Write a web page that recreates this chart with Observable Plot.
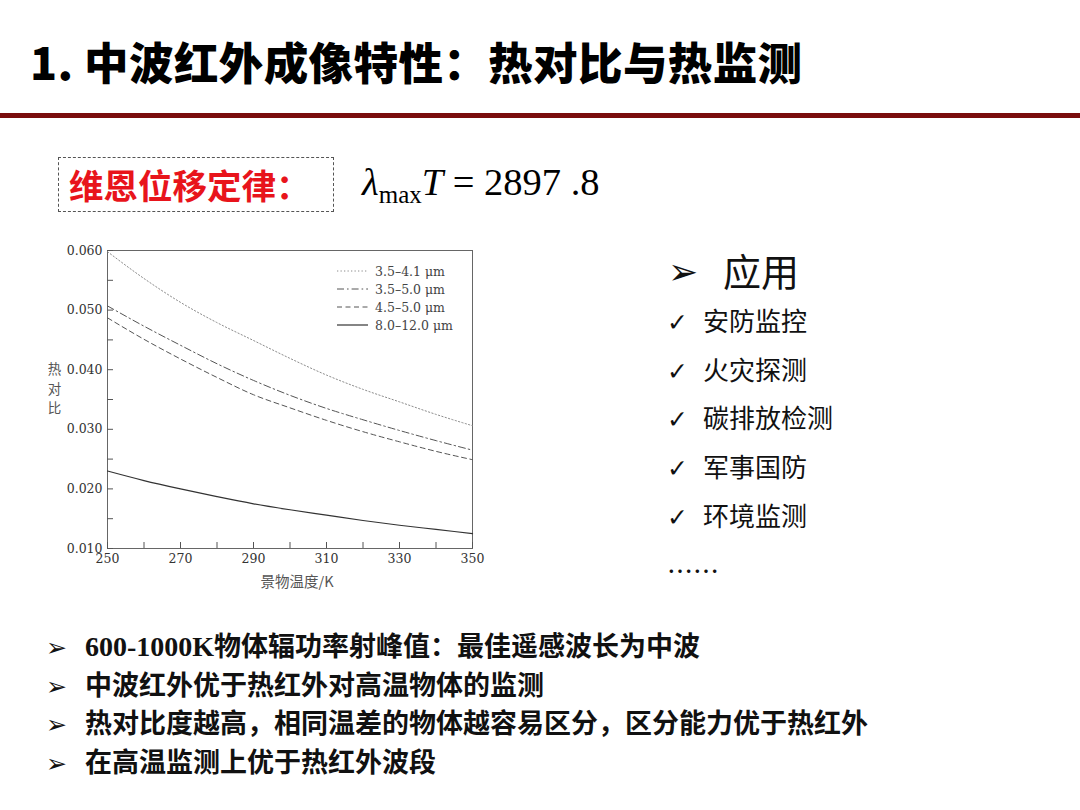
<!DOCTYPE html>
<html>
<head>
<meta charset="utf-8">
<script src="https://cdn.jsdelivr.net/npm/d3@7"></script>
<script src="https://cdn.jsdelivr.net/npm/@observablehq/plot@0.6"></script>
<style>
  html, body { margin: 0; padding: 0; background: #fff; }
  body { width: 1080px; height: 810px; position: relative; overflow: hidden; font-family: "Noto Sans CJK SC", sans-serif; color: #111; }
  .abs { position: absolute; white-space: nowrap; }
  #title { left: 30px; top: 35px; font-size: 44.5px; line-height: 52px; font-weight: 900; color: #000; letter-spacing: 0.4px; }
  #redline { left: 0; top: 113px; width: 1080px; height: 5px; background: #7a0d0d; }
  #box { left: 58px; top: 157px; width: 276px; height: 55px; border: 1px dashed #555; box-sizing: border-box; }
  #law { left: 69px; top: 162px; font-size: 34.5px; line-height: 44px; font-weight: 700; color: #e8141b; }
  #formula { left: 362px; top: 157px; font-family: "Liberation Serif", serif; font-size: 38.5px; line-height: 50px; color: #000; }
  #formula sub { font-size: 25px; vertical-align: -8px; font-style: normal; }
  #chart { left: 40px; top: 235px; }
  #legend { left: 337px; top: 262px; font-family: "DejaVu Serif", serif; font-size: 12.5px; color: #444; }
  #legend .row { height: 18px; display: flex; align-items: center; }
  #legend svg { margin-right: 7px; }
  #apphead { left: 668px; top: 245px; font-size: 38px; line-height: 50px; color: #111; }
  #apphead .arr { font-family: "DejaVu Sans", sans-serif; font-size: 36px; display: inline-block; width: 55px; vertical-align: 2px; }
  .app { left: 667px; font-size: 26px; line-height: 34px; color: #111; }
  .app .ck { font-family: "DejaVu Sans", sans-serif; font-size: 25px; font-weight: 700; display: inline-block; width: 36px; }
  .bul { left: 46px; font-size: 27px; line-height: 34px; font-weight: 700; color: #111; }
  .bul .arr { font-family: "DejaVu Sans", sans-serif; font-weight: 400; font-size: 25px; display: inline-block; width: 39px; }
  .bul .num { font-family: "Liberation Serif", serif; font-weight: 700; font-size: 28px; }
</style>
</head>
<body>
<div id="title" class="abs">1. 中波红外成像特性：热对比与热监测</div>
<div id="redline" class="abs"></div>
<div id="box" class="abs"></div>
<div id="law" class="abs">维恩位移定律：</div>
<div id="formula" class="abs"><i>λ</i><sub>max</sub><i>T</i> = 2897 .8</div>
<div id="chart" class="abs"></div>
<div id="legend" class="abs"></div>
<div id="apphead" class="abs"><span class="arr">➢</span>应用</div>
<div id="apps"></div>
<div id="bullets"></div>
<script>
// ---- data ----
const temps = [250, 260, 270, 280, 290, 300, 310, 320, 330, 340, 350];
const bandNames = ["3.5–4.1 μm", "3.5–5.0 μm", "4.5–5.0 μm", "8.0–12.0 μm"];
const band35to41 = [0.0598, 0.0553, 0.0513, 0.0479, 0.0449, 0.0419, 0.0391, 0.0367, 0.0346, 0.0325, 0.0306];
const band35to50 = [0.0507, 0.0473, 0.0441, 0.0410, 0.0382, 0.0357, 0.0335, 0.0316, 0.0298, 0.0281, 0.0265];
const band45to50 = [0.0487, 0.0451, 0.0418, 0.0387, 0.0358, 0.0336, 0.0315, 0.0296, 0.0279, 0.0263, 0.0249];
const band8to12  = [0.0230, 0.0214, 0.0200, 0.0187, 0.0175, 0.0165, 0.0156, 0.0147, 0.0139, 0.0132, 0.0125];
const yTickLabels = [0.010, 0.020, 0.030, 0.040, 0.050, 0.060];
const yMinorTicks = [0.010, 0.015, 0.020, 0.025, 0.030, 0.035, 0.040, 0.045, 0.050, 0.055, 0.060];
const xTickLabels = [250, 270, 290, 310, 330, 350];
const xMinorTicks = [250, 260, 270, 280, 290, 300, 310, 320, 330, 340, 350];
const yLabel = "热\n对\n比";
const xLabel = "景物温度/K";
const apps = ["安防监控", "火灾探测", "碳排放检测", "军事国防", "环境监测"];
const bullets = [
  ["600-1000K", "物体辐功率射峰值：最佳遥感波长为中波"],
  ["", "中波红外优于热红外对高温物体的监测"],
  ["", "热对比度越高，相同温差的物体越容易区分，区分能力优于热红外"],
  ["", "在高温监测上优于热红外波段"]
];

const seriesValues = [band35to41, band35to50, band45to50, band8to12];
const styles = [
  {stroke: "#8c8c8c", dash: "1.3,2.2", width: 1},
  {stroke: "#555", dash: "7,3,1.6,3", width: 1},
  {stroke: "#555", dash: "5,3.5", width: 1},
  {stroke: "#333", dash: null, width: 1.2}
];
const rows = bandNames.flatMap((name, i) => temps.map((t, j) => ({band: name, t, v: seriesValues[i][j]})));

const serif = "DejaVu Serif, serif";
const chart = Plot.plot({
  width: 450,
  height: 360,
  marginLeft: 67,
  marginRight: 18,
  marginTop: 15,
  marginBottom: 47,
  style: {background: "transparent", fontFamily: serif},
  x: {domain: [250, 350], label: null},
  y: {domain: [0.010, 0.060], label: null},
  marks: [
    Plot.frame({stroke: "#666", strokeWidth: 1}),
    ...bandNames.map((name, i) => Plot.line(rows.filter(d => d.band === name), {
      x: "t", y: "v", curve: "monotone-x",
      stroke: styles[i].stroke, strokeWidth: styles[i].width,
      strokeDasharray: styles[i].dash
    })),
    Plot.axisY({ticks: yMinorTicks, tickSize: 6, dx: 6, tickFormat: () => "", label: null, stroke: "#555"}),
    Plot.axisY({ticks: yTickLabels, tickSize: 0, tickPadding: 5, tickFormat: d3.format(".3f"), label: null, fontSize: 12.5, fill: "#333", fontFamily: serif}),
    Plot.axisX({ticks: xMinorTicks, tickSize: 6, dy: -6, tickFormat: () => "", label: null, stroke: "#555"}),
    Plot.axisX({ticks: xTickLabels, tickSize: 0, tickPadding: 6, tickFormat: d => String(d), label: null, fontSize: 12.5, fill: "#333", fontFamily: serif}),
    Plot.text([yLabel], {text: d => d, frameAnchor: "left", textAnchor: "middle", lineAnchor: "middle", dx: -53, dy: -12, lineHeight: 1.45, fontSize: 13.5, fill: "#555", fontFamily: "Noto Sans CJK SC"}),
    Plot.text([xLabel], {text: d => d, frameAnchor: "bottom", textAnchor: "middle", lineAnchor: "middle", dx: 7, dy: 34, fontSize: 14.5, fill: "#555", fontFamily: "Noto Sans CJK SC"})
  ]
});
document.getElementById("chart").appendChild(chart);

// legend (inside the plot frame, top right)
const legend = document.getElementById("legend");
bandNames.forEach((name, i) => {
  const row = document.createElement("div");
  row.className = "row";
  const s = styles[i];
  row.innerHTML = `<svg width="31" height="6"><line x1="0" x2="31" y1="3" y2="3" stroke="${s.stroke}" stroke-width="${s.width}" ${s.dash ? `stroke-dasharray="${s.dash}"` : ""}/></svg><span>${name}</span>`;
  legend.appendChild(row);
});

// application list
const appsDiv = document.getElementById("apps");
apps.forEach((a, i) => {
  const d = document.createElement("div");
  d.className = "abs app";
  d.style.top = (303 + i * 48.7) + "px";
  d.innerHTML = `<span class="ck">✓</span>${a}`;
  appsDiv.appendChild(d);
});
const dots = document.createElement("div");
dots.className = "abs app";
dots.style.top = "553px";
dots.textContent = "……";
appsDiv.appendChild(dots);

// bottom bullets
const bDiv = document.getElementById("bullets");
bullets.forEach((b, i) => {
  const d = document.createElement("div");
  d.className = "abs bul";
  d.style.top = (628 + i * 38.7) + "px";
  d.innerHTML = `<span class="arr">➢</span>${b[0] ? `<span class="num">${b[0]}</span>` : ""}${b[1]}`;
  bDiv.appendChild(d);
});
</script>
</body>
</html>
